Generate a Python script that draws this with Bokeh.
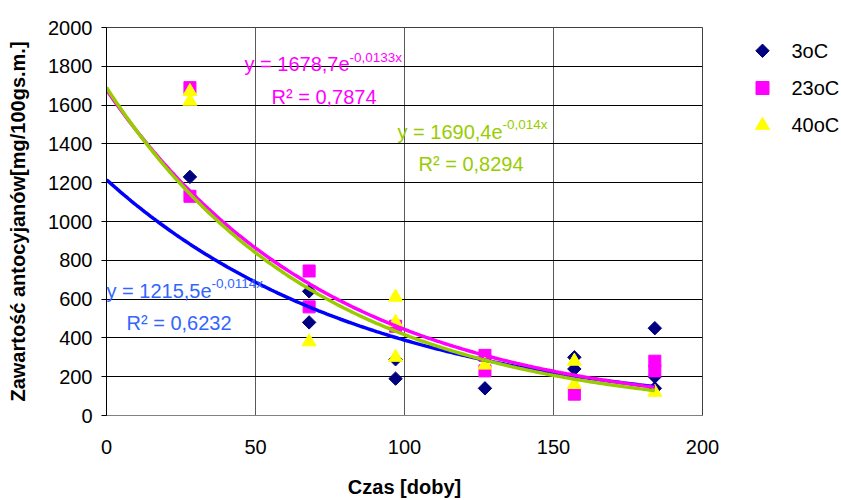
import numpy as np
from bokeh.plotting import figure
from bokeh.layouts import row
from bokeh.models import Label, Range1d, SingleIntervalTicker
from bokeh.core.properties import value
from bokeh.embed import file_html
from bokeh.resources import INLINE

# ---- data ----
days_3 = [28, 68, 68, 97, 97, 127, 157, 157, 184, 184, 184]
vals_3 = [1230, 640, 480, 290, 190, 140, 300, 240, 450, 200, 140]
days_23 = [28, 28, 68, 68, 97, 127, 127, 157, 184, 184]
vals_23 = [1690, 1130, 745, 560, 460, 310, 230, 110, 280, 230]
days_40 = [28, 28, 68, 97, 97, 97, 127, 157, 157, 184]
vals_40 = [1670, 1620, 380, 610, 480, 300, 260, 280, 160, 120]

series_names = ["3oC", "23oC", "40oC"]
trend_a = [1215.5, 1678.7, 1690.4]
trend_b = [-0.0114, -0.0133, -0.014]
trend_r2 = ["0,6232", "0,7874", "0,8294"]
trend_xmax = 184

x_ticks_interval = 50
y_ticks_interval = 200

FONT = "Liberation Sans"
marker_colors = ["#000080", "#FF00FF", "#FFFF00"]
line_colors = ["#0000FF", "#FF00FF", "#99CC00"]
text_colors = ["#3366FF", "#FF00FF", "#99CC00"]

# ---- main figure ----
MAIN_W, H = 720, 500
p = figure(width=MAIN_W, height=H, output_backend="svg", toolbar_location=None,
           x_range=Range1d(0, 200), y_range=Range1d(0, 2000),
           min_border_left=106, min_border_right=18, min_border_top=27,
           min_border_bottom=85)
p.background_fill_color = "white"
p.border_fill_color = "white"
p.outline_line_color = "#404040"
p.outline_line_width = 1

p.ygrid.grid_line_color = "#000000"
p.ygrid.grid_line_width = 1
p.xgrid.grid_line_color = "#5a5a5a"
p.xgrid.grid_line_width = 1

p.xaxis.ticker = SingleIntervalTicker(interval=x_ticks_interval)
p.yaxis.ticker = SingleIntervalTicker(interval=y_ticks_interval)
for ax in (p.xaxis[0], p.yaxis[0]):
    ax.minor_tick_line_color = None
    ax.major_label_text_font = FONT
    ax.major_label_text_font_size = "20px"
    ax.major_label_text_color = "black"
    ax.axis_label_text_font = FONT
    ax.axis_label_text_font_size = "20px"
    ax.axis_label_text_font_style = "bold"
    ax.axis_label_text_color = "black"

p.xaxis.axis_label = "Czas [doby]"
p.xaxis.major_tick_out = 0
p.xaxis.major_tick_in = 0
p.xaxis.major_label_standoff = 20
p.xaxis.axis_label_standoff = 19
p.xaxis.axis_line_color = "#808080"

p.yaxis.axis_label = "Zawartość antocyjanów[mg/100gs.m.]"
p.yaxis.major_tick_out = 5
p.yaxis.major_tick_in = 0
p.yaxis.major_tick_line_color = "black"
p.yaxis.major_label_standoff = 9
p.yaxis.axis_label_standoff = 16
p.yaxis.axis_line_color = "black"

# ---- markers ----
p.scatter(days_3, vals_3, marker="square", angle=np.pi / 4, size=9.5,
          fill_color=marker_colors[0], line_color=marker_colors[0])
p.scatter(days_23, vals_23, marker="square", size=12,
          fill_color=marker_colors[1], line_color=marker_colors[1])
p.scatter(days_40, vals_40, marker="triangle", size=14,
          fill_color=marker_colors[2], line_color=marker_colors[2])

# ---- exponential trend lines (from the displayed equations) ----
xs = np.linspace(0, trend_xmax, 200)
for a, b, c in zip(trend_a, trend_b, line_colors):
    p.line(xs, a * np.exp(b * xs), line_color=c, line_width=3.5)

# ---- equation labels ----
def ref_to_data(px, py):
    # picture pixel -> data coordinates (frame 106..702 x, 415..26.7 y)
    x = (px - 106) / (702 - 106) * 200
    y = (415 - py) / (415 - 26.7) * 2000
    return x, y

def fmt(v):
    return str(v).replace(".", ",")

eq_pos = [(106, 290), (244, 63), (397, 131)]      # main text left/baseline
sup_dy = [-7, -6, -7]
r2_pos = [(126, 322), (271, 96), (418, 163)]
char_w = {"y": .5, " ": .278, "=": .584, ",": .278, "e": .556}
for i in range(3):
    main = "y = " + fmt(trend_a[i]) + "e"
    sup = fmt(trend_b[i]) + "x"
    x0, y0 = eq_pos[i]
    w = sum(char_w.get(ch, .556) for ch in main) * 20
    lx, ly = ref_to_data(x0, y0)
    p.add_layout(Label(x=lx, y=ly, text=main, text_font=FONT, text_font_size="20px",
                       text_color=text_colors[i], text_baseline="alphabetic", text_align="left"))
    sx, sy = ref_to_data(x0 + w, y0 + sup_dy[i])
    p.add_layout(Label(x=sx, y=sy, text=sup, text_font=FONT, text_font_size="13.5px",
                       text_color=text_colors[i], text_baseline="alphabetic", text_align="left"))
    rx, ry = ref_to_data(*r2_pos[i])
    p.add_layout(Label(x=rx, y=ry, text="R² = " + trend_r2[i], text_font=FONT,
                       text_font_size="20px", text_color=text_colors[i],
                       text_baseline="alphabetic", text_align="left"))

# ---- legend panel (separate figure in pixel coordinates) ----
LEG_W = 841 - MAIN_W
lg = figure(width=LEG_W, height=H, output_backend="svg", toolbar_location=None,
            x_range=Range1d(0, LEG_W), y_range=Range1d(H, 0),
            min_border=0, x_axis_type=None, y_axis_type=None)
lg.outline_line_color = None
lg.xgrid.visible = False
lg.ygrid.visible = False
leg_y = [30, 78, 126]
lg.scatter(x=[42, 42, 42], y=leg_y, marker=["square", "square", "triangle"],
           angle=[np.pi / 4, 0, 0], size=[9.5, 13, 14],
           fill_color=marker_colors, line_color=marker_colors)
lg.text(x=[71, 71, 71], y=leg_y, text=series_names, text_font=value(FONT),
        text_font_size="20px", text_color="black", text_baseline="middle",
        text_align="left")

layout = row(p, lg)
open("out.html", "w").write(file_html(layout, INLINE))
